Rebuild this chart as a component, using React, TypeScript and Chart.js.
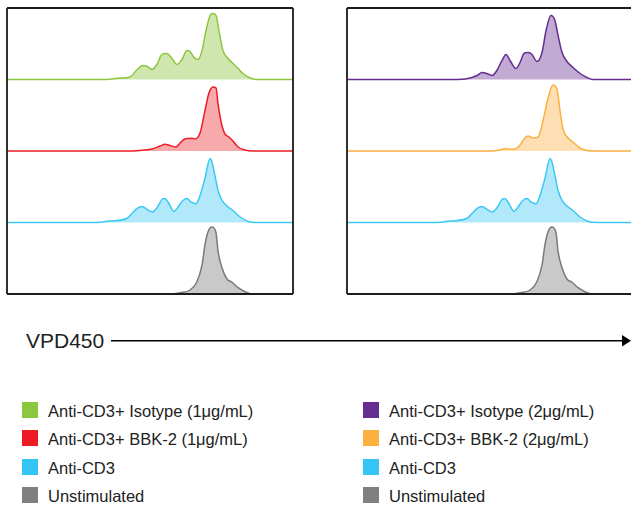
import React, { useEffect, useRef } from "react";
import { Chart, registerables } from "chart.js";

Chart.register(...registerables);

// VPD450 intensity (a.u., 0-1000) vs. normalized count (% of row height)
type Pt = [number, number];

const isotype1: Pt[] = [
  [0, 0], [325, 0], [367, 0.7], [395, 2.1], [423, 2.8], [437, 5.6], [455, 14], [476, 19.6],
  [490, 18.2], [507, 14], [524, 21], [542, 35], [559, 36.4], [577, 29.4], [594, 21], [612, 28],
  [629, 40.6], [640, 39.2], [654, 30.8], [668, 28], [682, 40.6], [696, 68.5], [710, 89.5],
  [720, 92.3], [731, 89.5], [741, 68.5], [755, 40.6], [773, 29.4], [790, 22.4], [808, 15.4],
  [825, 8.4], [846, 2.8], [874, 0], [1000, 0],
];

const bbk1: Pt[] = [
  [0, 0], [413, 0], [465, 0.7], [507, 2.8], [535, 7], [552, 9.4], [570, 7.7], [591, 5.6],
  [605, 11.2], [619, 16.1], [636, 17.5], [647, 17.8], [657, 16.8], [675, 25.2], [692, 56],
  [706, 81], [720, 89.5], [731, 88.1], [738, 65.7], [752, 35], [762, 23.8], [776, 19.6],
  [790, 14], [808, 5.6], [832, 1.4], [857, 0], [1000, 0],
];

const antiCD3: Pt[] = [
  [0, 0], [315, 0], [360, 2.1], [420, 6], [437, 12.6], [455, 19.6], [472, 22.4], [490, 18.2],
  [507, 14.7], [524, 20.3], [542, 32.2], [552, 33.6], [563, 28.7], [584, 15.4], [598, 21.7],
  [615, 30.8], [629, 33.6], [643, 28.7], [661, 26.2], [675, 37.8], [692, 61.5], [710, 89.5],
  [717, 83.9], [727, 65.7], [738, 44.8], [752, 30.8], [773, 21.7], [790, 16.8], [815, 7.7],
  [843, 1.4], [874, 0], [1000, 0],
];

const unstimulated: Pt[] = [
  [0, 0], [570, 0], [605, 1.8], [640, 5.6], [664, 17.2], [682, 40.6], [692, 68.5], [703, 87.1],
  [717, 93.7], [731, 85.3], [738, 59.2], [752, 36.4], [769, 21], [787, 16.4], [808, 8.8],
  [832, 3.2], [857, 0], [1000, 0],
];

const isotype2: Pt[] = [
  [0, 0], [371, 0], [423, 1.4], [455, 5.6], [472, 9.8], [493, 7.7], [507, 5.6], [524, 12.6],
  [542, 26.6], [556, 35], [570, 26.6], [591, 15.4], [605, 23.8], [619, 36.4], [633, 37.8],
  [647, 35], [664, 25.2], [682, 37.8], [696, 68.5], [713, 89.5], [727, 82.5], [738, 61.5],
  [752, 37.8], [769, 25.2], [790, 16.8], [815, 8.4], [839, 2.8], [860, 0], [1000, 0],
];

const bbk2: Pt[] = [
  [0, 0], [500, 0], [535, 1.4], [556, 3.5], [570, 2.4], [587, 2.8], [605, 8.4], [622, 18.2],
  [633, 21], [650, 18.2], [668, 19.6], [685, 42], [703, 74.1], [720, 92.3], [734, 86.7],
  [745, 56], [755, 30.8], [773, 18.2], [790, 12.6], [815, 4.2], [839, 0.7], [867, 0], [1000, 0],
];

const leftLabels = ["Anti-CD3+ Isotype (1μg/mL)", "Anti-CD3+ BBK-2 (1μg/mL)", "Anti-CD3", "Unstimulated"];
const rightLabels = ["Anti-CD3+ Isotype (2μg/mL)", "Anti-CD3+ BBK-2 (2μg/mL)", "Anti-CD3", "Unstimulated"];
const leftData = [isotype1, bbk1, antiCD3, unstimulated];
const rightData = [isotype2, bbk2, antiCD3, unstimulated];

const leftColors = ["#8DC63F", "#ED1C24", "#3CC8F4", "#7a7a7a"];
const leftFills = ["rgba(141,198,63,0.42)", "rgba(237,28,36,0.38)", "rgba(60,200,244,0.4)", "rgba(120,120,120,0.4)"];
const rightColors = ["#662D91", "#FBB040", "#3CC8F4", "#7a7a7a"];
const rightFills = ["rgba(102,45,145,0.4)", "rgba(251,176,64,0.4)", "rgba(60,200,244,0.4)", "rgba(120,120,120,0.4)"];
const legendLeftColors = ["#8DC63F", "#ED1C24", "#35C5F4", "#808080"];
const legendRightColors = ["#662D91", "#FBB040", "#35C5F4", "#808080"];

const ROW = 100;

function makeBox(sides: { l: boolean; t: boolean; r: boolean; b: boolean }) {
  return {
    id: "panelBox",
    afterDraw(chart: any) {
      const { ctx, chartArea } = chart;
      const { left, right, top, bottom } = chartArea;
      ctx.save();
      ctx.strokeStyle = "#1c1c1c";
      ctx.lineWidth = 1.8;
      ctx.beginPath();
      if (sides.l) { ctx.moveTo(left, top); ctx.lineTo(left, bottom); }
      if (sides.t) { ctx.moveTo(left, top); ctx.lineTo(right, top); }
      if (sides.r) { ctx.moveTo(right, top); ctx.lineTo(right, bottom); }
      if (sides.b) { ctx.moveTo(left, bottom); ctx.lineTo(right, bottom); }
      ctx.stroke();
      ctx.restore();
    },
  };
}

function Panel(props: {
  data: Pt[][]; labels: string[]; colors: string[]; fills: string[];
  width: number; height: number; xMax: number; padding: any;
  sides: { l: boolean; t: boolean; r: boolean; b: boolean };
  style: React.CSSProperties;
}) {
  const ref = useRef<HTMLCanvasElement>(null);
  useEffect(() => {
    if (!ref.current) return;
    const n = props.data.length;
    const datasets = props.data.map((series, i) => {
      const base = (n - 1 - i) * ROW;
      return {
        label: props.labels[i],
        data: series.map(([x, v]) => ({ x, y: base + v })),
        borderColor: props.colors[i],
        backgroundColor: props.fills[i],
        borderWidth: 1.5,
        pointRadius: 0,
        cubicInterpolationMode: "monotone" as const,
        fill: { value: base },
      };
    });
    const chart = new Chart(ref.current, {
      type: "line",
      data: { datasets },
      options: {
        responsive: false,
        animation: false,
        layout: { padding: props.padding },
        plugins: { legend: { display: false }, tooltip: { enabled: false } },
        scales: {
          x: { type: "linear", min: 0, max: props.xMax, display: false },
          y: { min: 0, max: n * ROW, display: false },
        },
      },
      plugins: [makeBox(props.sides)],
    });
    return () => chart.destroy();
  }, []);
  return (
    <div style={props.style}>
      <canvas ref={ref} width={props.width} height={props.height} style={{ display: "block" }} />
    </div>
  );
}

const FONT = "'Liberation Sans', Arial, Helvetica, sans-serif";
const legendRowCenters = [409.5, 438, 466.5, 494.5];

export default function App() {
  return (
    <div style={{ position: "absolute", left: 0, top: 0, width: 631, height: 510, overflow: "hidden", background: "#fff", fontFamily: FONT }}>
      <Panel
        data={leftData} labels={leftLabels} colors={leftColors} fills={leftFills}
        width={288} height={288} xMax={1000}
        padding={{ left: 1, right: 1, top: 1, bottom: 1 }}
        sides={{ l: true, t: true, r: true, b: true }}
        style={{ position: "absolute", left: 6, top: 7 }}
      />
      <Panel
        data={rightData} labels={rightLabels} colors={rightColors} fills={rightFills}
        width={285} height={288} xMax={993}
        padding={{ left: 1, right: 0, top: 1, bottom: 1 }}
        sides={{ l: true, t: true, r: false, b: true }}
        style={{ position: "absolute", left: 346, top: 7 }}
      />
      <div style={{ position: "absolute", left: 26, top: 329, fontSize: 21, lineHeight: "24px", color: "#222", whiteSpace: "nowrap" }}>
        VPD450
      </div>
      <svg style={{ position: "absolute", left: 0, top: 330 }} width={631} height={22}>
        <line x1={111} y1={10.75} x2={624} y2={10.75} stroke="#000" strokeWidth={1.5} />
        <polygon points="622,5 631,10.75 622,16.5" fill="#000" />
      </svg>
      {leftLabels.map((lab, i) => (
        <div key={"l" + i} style={{ position: "absolute", left: 22, top: legendRowCenters[i] - 10, height: 20, display: "flex", alignItems: "center", whiteSpace: "nowrap" }}>
          <div style={{ width: 16, height: 16, background: legendLeftColors[i] }} />
          <span style={{ marginLeft: 10, fontSize: 16.5, lineHeight: "20px", color: "#222", position: "relative", top: 1 }}>{lab}</span>
        </div>
      ))}
      {rightLabels.map((lab, i) => (
        <div key={"r" + i} style={{ position: "absolute", left: 363, top: legendRowCenters[i] - 10, height: 20, display: "flex", alignItems: "center", whiteSpace: "nowrap" }}>
          <div style={{ width: 16, height: 16, background: legendRightColors[i] }} />
          <span style={{ marginLeft: 10, fontSize: 16.5, lineHeight: "20px", color: "#222", position: "relative", top: 1 }}>{lab}</span>
        </div>
      ))}
    </div>
  );
}
